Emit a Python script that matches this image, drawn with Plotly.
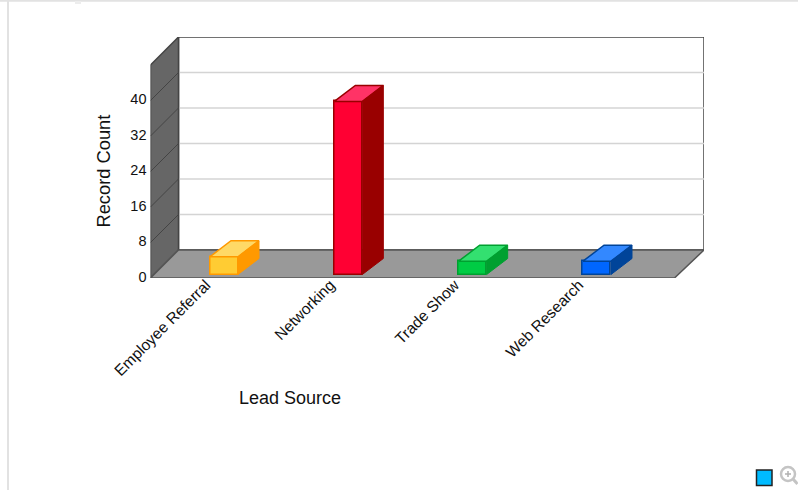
import plotly.graph_objects as go

categories = ["Employee Referral", "Networking", "Trade Show", "Web Research"]
record_counts = [4, 39, 3, 3]
y_ticks = [0, 8, 16, 24, 32, 40]
grid_values = [8, 16, 24, 32, 40]
front_colors = ["#FFCC33", "#FF0033", "#00CC44", "#0066FF"]
top_colors = ["#FFD966", "#FF3366", "#33E070", "#3388FF"]
side_colors = ["#FF9900", "#990000", "#00A030", "#004499"]
edge_colors = ["#FF9900", "#990000", "#00A030", "#004499"]

W, H = 798, 494
PX_L, PX_R, PX_T, PX_B = 150.5, 704, 37, 278
X0_PX, X_STEP = 224, 124.33
Y0_PX, Y_STEP = 274.5, 4.4375


def xv(px):
    return (px - X0_PX) / X_STEP


def yv(px):
    return (Y0_PX - px) / Y_STEP


x_range = [xv(PX_L), xv(PX_R)]
y_range = [yv(PX_B), yv(PX_T)]
half = 14 / X_STEP
bar_dx, bar_dy = 21 / X_STEP, 16 / Y_STEP
wall_dx, wall_dy = 28 / X_STEP, 28 / Y_STEP
front_l, back_l = x_range[0], x_range[0] + wall_dx
back_r, front_r = x_range[1], x_range[1] - 29.5 / X_STEP
floor_f, floor_b = y_range[0], y_range[0] + wall_dy
top_b = y_range[1]
top_f = top_b - wall_dy


def path(points):
    return "M " + " L ".join(f"{a},{b}" for a, b in points) + " Z"


shapes = []
shapes.append(dict(type="path", path=path([(back_l, floor_b), (back_r, floor_b), (back_r, top_b), (back_l, top_b)]),
                   xref="x", yref="y", fillcolor="white", line=dict(color="#444444", width=1.5), layer="below"))
for g in grid_values:
    yb = floor_b + g
    shapes.append(dict(type="line", x0=back_l, x1=back_r, y0=yb, y1=yb, xref="x", yref="y",
                       line=dict(color="#D4D4D4", width=1.5), layer="below"))
shapes.append(dict(type="path", path=path([(front_l, floor_f), (back_l, floor_b), (back_l, top_b), (front_l, top_f)]),
                   xref="x", yref="y", fillcolor="#666666", line=dict(color="#444444", width=1.5), layer="below"))
for g in grid_values:
    shapes.append(dict(type="line", x0=front_l, x1=back_l, y0=floor_f + g, y1=floor_b + g, xref="x", yref="y",
                       line=dict(color="#444444", width=1), layer="below"))
shapes.append(dict(type="path", path=path([(front_l, floor_f), (back_l, floor_b), (back_r, floor_b), (front_r, floor_f)]),
                   xref="x", yref="y", fillcolor="#999999", line=dict(color="#555555", width=1.5), layer="below"))


def px(v):
    return v / W


def py(v):
    return 1 - v / H


page = dict(xref="paper", yref="paper")
shapes += [
    dict(type="line", x0=0, x1=1, y0=py(0.8), y1=py(0.8), line=dict(color="#E2E2E2", width=2), **page),
    dict(type="line", x0=px(8), x1=px(8), y0=py(0), y1=py(490), line=dict(color="#E2E2E2", width=2), **page),
    dict(type="rect", x0=px(75), x1=px(81), y0=py(1), y1=py(4), fillcolor="#EDEDED", line=dict(width=0), **page),
    dict(type="rect", x0=px(756.5), x1=px(772), y0=py(470), y1=py(485.5), fillcolor="#00BBFF",
         line=dict(color="#222222", width=1.5), **page),
    dict(type="circle", x0=px(781), x1=px(795), y0=py(467), y1=py(481), fillcolor="white",
         line=dict(color="#C4C4C4", width=2.5), **page),
    dict(type="line", x0=px(793), x1=px(797.5), y0=py(479), y1=py(484), line=dict(color="#C4C4C4", width=3), **page),
    dict(type="line", x0=px(785), x1=px(791), y0=py(474), y1=py(474), line=dict(color="#B0B0B0", width=1.5), **page),
    dict(type="line", x0=px(788), x1=px(788), y0=py(471), y1=py(477), line=dict(color="#B0B0B0", width=1.5), **page),
]

fig = go.Figure()
positions = list(range(len(categories)))
fig.add_trace(go.Bar(x=positions, y=record_counts, width=2 * half, marker=dict(color=front_colors, line=dict(color=edge_colors, width=1.5)),
                     hoverinfo="skip", showlegend=False))
for i, v in zip(positions, record_counts):
    l, r = i - half, i + half
    fig.add_trace(go.Scatter(x=[l, r, r + bar_dx, l + bar_dx, l], y=[v, v, v + bar_dy, v + bar_dy, v], mode="lines",
                             fill="toself", fillcolor=top_colors[i], line=dict(color=edge_colors[i], width=1.5),
                             hoverinfo="skip", showlegend=False))
    fig.add_trace(go.Scatter(x=[r, r + bar_dx, r + bar_dx, r, r], y=[0, bar_dy, v + bar_dy, v, 0], mode="lines",
                             fill="toself", fillcolor=side_colors[i], line=dict(color=edge_colors[i], width=1),
                             hoverinfo="skip", showlegend=False))

font = "Liberation Sans, Arial, sans-serif"
fig.update_layout(
    width=W, height=H, margin=dict(l=0, r=0, t=0, b=0), autosize=False,
    paper_bgcolor="white", plot_bgcolor="rgba(0,0,0,0)", font=dict(family=font, color="#111111"),
    shapes=shapes, showlegend=False, bargap=0,
    xaxis=dict(domain=[PX_L / W, PX_R / W], range=x_range, tickmode="array", tickvals=positions, ticktext=categories,
               tickangle=-45, ticks="", showgrid=False, zeroline=False, showline=False, tickfont=dict(size=15.5),
               automargin=False, ticklabelshift=-18, ticklabelstandoff=-6),
    yaxis=dict(domain=[1 - PX_B / H, 1 - PX_T / H], range=y_range, tickmode="array", tickvals=y_ticks,
               ticks="", showgrid=False, zeroline=False, showline=False, tickfont=dict(size=14.5), automargin=False,
               ticklabelshift=2, ticklabelstandoff=3),
    annotations=[
        dict(text="Lead Source", x=px(290), y=py(398), xref="paper", yref="paper", showarrow=False,
             font=dict(size=18), xanchor="center", yanchor="middle"),
        dict(text="Record Count", x=px(102.5), y=py(171), xref="paper", yref="paper", showarrow=False,
             font=dict(size=18.3), textangle=-90, xanchor="center", yanchor="middle"),
    ],
)

fig.write_html("out.html", post_script="document.body.style.margin='0';document.body.style.overflow='hidden';",
               config={"displayModeBar": False})
